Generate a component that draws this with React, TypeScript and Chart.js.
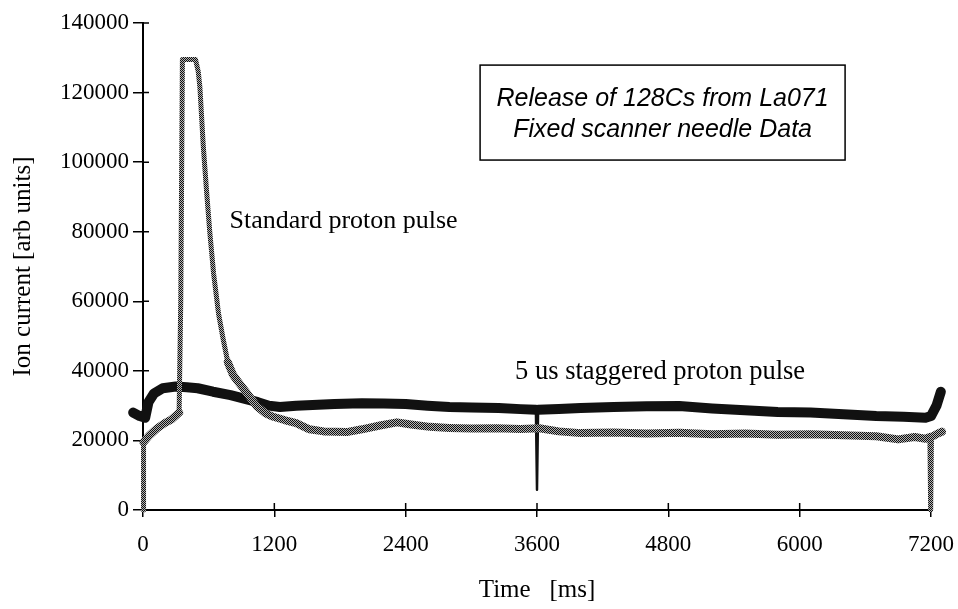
import React, { useEffect, useRef } from 'react';
import { Chart, registerables } from 'chart.js';

Chart.register(...registerables);

// ---- Data ----
const xTickValues = [0, 1200, 2400, 3600, 4800, 6000, 7200];

// Standard proton pulse (grey, stippled)
const stdTime = [5, 5, 60, 130, 200, 260, 330, 345, 360, 480, 505, 520, 550, 580, 610, 645, 690, 730, 775, 820, 860, 950, 1040, 1120, 1190, 1300, 1400, 1520, 1650, 1860, 2000, 2165, 2320, 2450, 2620, 2800, 3000, 3230, 3450, 3620, 3800, 4000, 4300, 4600, 4900, 5200, 5500, 5800, 6100, 6400, 6700, 6900, 7050, 7150, 7190, 7197, 7204, 7250, 7300];
const stdIon = [0, 19500, 21500, 23500, 25000, 26000, 28000, 60000, 129500, 129500, 126000, 121500, 105000, 92000, 80000, 68000, 56500, 49500, 42500, 39000, 37200, 33600, 29800, 27800, 26800, 25800, 25000, 23200, 22600, 22400, 23200, 24300, 25200, 24600, 23900, 23600, 23400, 23500, 23300, 23500, 22600, 22100, 22300, 22000, 22200, 21800, 22000, 21600, 21800, 21500, 21200, 20300, 21000, 20500, 21000, 0, 21000, 21800, 22500];

// 5 us staggered proton pulse (black)
const stagTime = [-90, -30, 20, 50, 100, 180, 300, 400, 500, 640, 800, 950, 1050, 1150, 1250, 1400, 1550, 1750, 2000, 2200, 2400, 2600, 2800, 3000, 3250, 3450, 3590, 3600, 3610, 3800, 4000, 4300, 4600, 4900, 5200, 5500, 5800, 6100, 6400, 6700, 6950, 7150, 7200, 7250, 7290];
const stagIon = [28000, 27000, 26500, 31000, 33500, 35000, 35500, 35300, 35000, 34000, 33000, 31800, 31000, 30000, 29600, 30000, 30200, 30500, 30700, 30600, 30500, 30000, 29600, 29500, 29300, 29000, 28800, 5800, 28800, 29000, 29300, 29600, 29800, 29900, 29200, 28700, 28200, 28000, 27500, 27000, 26800, 26500, 27000, 30000, 34000];

const X_MIN = 0;
const X_MAX = 7200;

const labelStd = 'Standard proton pulse';
const labelStag = '5 us staggered proton pulse';
const boxLines = ['Release of 128Cs from La071', 'Fixed scanner needle Data'];
const yTitle = 'Ion current [arb units]';
const xTitle = 'Time   [ms]';

const SERIF = '"Liberation Serif", "Times New Roman", serif';
const SANS = '"Liberation Sans", Arial, sans-serif';

function makePattern(): CanvasPattern | string {
  const c = document.createElement('canvas');
  c.width = 2;
  c.height = 2;
  const g = c.getContext('2d');
  if (!g) return '#666';
  g.fillStyle = '#b4b4b4';
  g.fillRect(0, 0, 2, 2);
  g.fillStyle = '#101010';
  g.fillRect(0, 0, 1, 1);
  g.fillRect(1, 1, 1, 1);
  const p = g.createPattern(c, 'repeat');
  return p || '#666';
}

const steepness = (ctx: any) => {
  const dx = Math.abs(ctx.p1.x - ctx.p0.x);
  const dy = Math.abs(ctx.p1.y - ctx.p0.y);
  return dy / Math.max(dx, 0.001);
};

const decorPlugin = {
  id: 'decor',
  beforeDatasetsDraw(chart: any) {
    const { ctx, scales } = chart;
    const xs = scales.x;
    const ys = scales.y;
    ctx.save();
    ctx.strokeStyle = '#000';
    ctx.lineWidth = 1.5;
    ctx.beginPath();
    ys.ticks.forEach((t: any) => {
      const py = ys.getPixelForValue(t.value);
      ctx.moveTo(xs.left, py);
      ctx.lineTo(xs.left + 6, py);
    });
    xs.ticks.forEach((t: any) => {
      const px = xs.getPixelForValue(t.value);
      ctx.moveTo(px, ys.bottom);
      ctx.lineTo(px, ys.bottom - 7);
    });
    ctx.stroke();
    ctx.restore();
  },
  afterDraw(chart: any) {
    const { ctx, scales } = chart;
    const xs = scales.x;
    const ys = scales.y;
    ctx.save();
    ctx.fillStyle = '#000';
    ctx.textBaseline = 'middle';
    ctx.textAlign = 'left';
    ctx.font = `26px ${SERIF}`;
    ctx.fillText(labelStd, xs.getPixelForValue(790), ys.getPixelForValue(83000));
    ctx.font = `26.5px ${SERIF}`;
    ctx.fillText(labelStag, xs.getPixelForValue(3400), ys.getPixelForValue(39700));

    // annotation box
    const bx0 = xs.getPixelForValue(3080);
    const bx1 = xs.getPixelForValue(6415);
    const by0 = ys.getPixelForValue(127900);
    const by1 = ys.getPixelForValue(100600);
    ctx.fillStyle = '#fff';
    ctx.fillRect(bx0, by0, bx1 - bx0, by1 - by0);
    ctx.strokeStyle = '#000';
    ctx.lineWidth = 1.5;
    ctx.strokeRect(bx0, by0, bx1 - bx0, by1 - by0);
    ctx.fillStyle = '#000';
    ctx.textAlign = 'center';
    ctx.font = `italic 25px ${SANS}`;
    const cx = (bx0 + bx1) / 2;
    ctx.fillText(boxLines[0], cx, ys.getPixelForValue(118000));
    ctx.fillText(boxLines[1], cx, ys.getPixelForValue(109300));
    ctx.restore();
  },
};

export default function App() {
  const ref = useRef<HTMLCanvasElement | null>(null);

  useEffect(() => {
    if (!ref.current) return;
    const pattern = makePattern();
    const stdPoints = stdTime.map((t, i) => ({ x: t, y: stdIon[i] }));
    const stagPoints = stagTime.map((t, i) => ({ x: t, y: stagIon[i] }));

    const chart = new Chart(ref.current, {
      type: 'line',
      data: {
        datasets: [
          {
            label: labelStd,
            data: stdPoints,
            borderColor: pattern as any,
            borderWidth: 8,
            pointRadius: 0,
            tension: 0,
            clip: false as any,
            borderJoinStyle: 'round',
            borderCapStyle: 'round',
            segment: {
              borderWidth: (ctx: any) =>
                steepness(ctx) > 2.5 || Math.max(ctx.p0.parsed.y, ctx.p1.parsed.y) > 45000 ? 5 : 8,
            },
          },
          {
            label: labelStag,
            data: stagPoints,
            borderColor: '#111',
            borderWidth: 10,
            pointRadius: 0,
            tension: 0,
            clip: false as any,
            borderJoinStyle: 'round',
            borderCapStyle: 'round',
            segment: {
              borderWidth: (ctx: any) => (steepness(ctx) > 6 ? 2.5 : 10),
            },
          },
        ],
      },
      options: {
        animation: false,
        responsive: false,
        devicePixelRatio: 1,
        layout: { padding: { top: 23, right: 27, left: 0, bottom: 0 } },
        plugins: {
          legend: { display: false },
          tooltip: { enabled: false },
        },
        scales: {
          x: {
            type: 'linear',
            bounds: 'data',
            afterDataLimits: (scale: any) => {
              scale.min = X_MIN;
              scale.max = X_MAX;
            },
            afterBuildTicks: (scale: any) => {
              scale.ticks = xTickValues.map((v) => ({ value: v }));
              scale.min = X_MIN;
              scale.max = X_MAX;
            },
            afterFit: (scale: any) => {
              scale.height = 99;
              scale.paddingLeft = 0;
              scale.paddingRight = 0;
            },
            ticks: {
              color: '#000',
              font: { family: SERIF, size: 23 },
              padding: 14,
              maxRotation: 0,
              callback: (v: any) => String(v),
            },
            grid: {
              drawOnChartArea: false,
              drawTicks: true,
              tickLength: 7,
              color: '#000',
              lineWidth: 1.5,
            },
            border: { display: true, color: '#000', width: 2 },
            title: {
              display: true,
              text: xTitle,
              color: '#000',
              font: { family: SERIF, size: 25 },
              padding: { top: 0, bottom: 4 },
            },
          },
          y: {
            type: 'linear',
            min: 0,
            max: 140000,
            ticks: {
              stepSize: 20000,
              color: '#000',
              font: { family: SERIF, size: 23 },
              padding: 4,
              callback: (v: any) => String(v),
            },
            afterFit: (scale: any) => {
              scale.width = 143;
              scale.paddingTop = 0;
              scale.paddingBottom = 0;
            },
            grid: {
              drawOnChartArea: false,
              drawTicks: true,
              tickLength: 10,
              color: '#000',
              lineWidth: 1.5,
            },
            border: { display: true, color: '#000', width: 2 },
            title: {
              display: true,
              text: yTitle,
              color: '#000',
              font: { family: SERIF, size: 25 },
              padding: { top: 8, bottom: 0 },
            },
          },
        },
      },
      plugins: [decorPlugin],
    });
    return () => chart.destroy();
  }, []);

  return (
    <div style={{ position: 'absolute', left: 0, top: 0, width: 958, height: 609, background: '#fff' }}>
      <canvas ref={ref} width={958} height={609} />
    </div>
  );
}
